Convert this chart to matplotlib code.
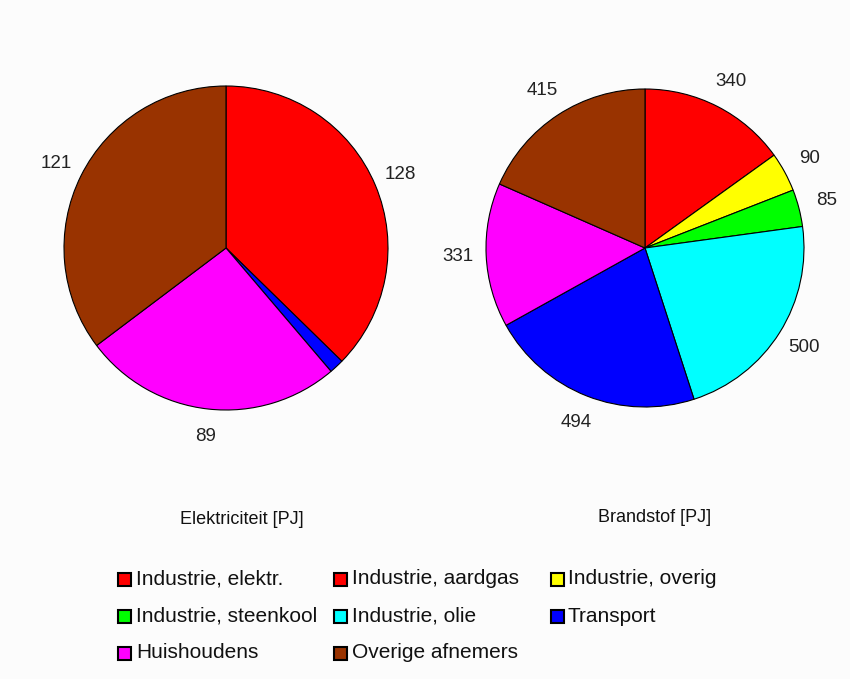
import matplotlib
matplotlib.use("Agg")
import matplotlib.pyplot as plt
from matplotlib.patches import Rectangle

plt.rcParams['font.family'] = ['Liberation Sans', 'DejaVu Sans']

# Electricity consumption [PJ]
elec_labels = ["Industrie, elektr.", "Transport", "Huishoudens", "Overige afnemers"]
elec_values = [128, 5, 89, 121]
elec_colors = ["#ff0000", "#0000ff", "#ff00ff", "#993300"]
elec_shown = ["128", "", "89", "121"]

# Fuel consumption [PJ]
fuel_labels = ["Industrie, aardgas", "Industrie, overig", "Industrie, steenkool",
               "Industrie, olie", "Transport", "Huishoudens", "Overige afnemers"]
fuel_values = [340, 90, 85, 500, 494, 331, 415]
fuel_colors = ["#ff0000", "#ffff00", "#00ff00", "#00ffff", "#0000ff", "#ff00ff", "#993300"]

legend_labels = ["Industrie, elektr.", "Industrie, aardgas", "Industrie, overig",
                 "Industrie, steenkool", "Industrie, olie", "Transport",
                 "Huishoudens", "Overige afnemers"]
legend_colors = ["#ff0000", "#ff0000", "#ffff00", "#00ff00", "#00ffff", "#0000ff",
                 "#ff00ff", "#993300"]

W, H = 850, 679
fig = plt.figure(figsize=(W / 100, H / 100), dpi=100, facecolor="#fcfcfc")


def px_axes(x0, y_top, size):
    return fig.add_axes([x0 / W, (H - y_top - size) / H, size / W, size / H])


wedge_style = dict(edgecolor="black", linewidth=0.8)
text_style = dict(fontsize=13.5, color="#222222")

ax1 = px_axes(64, 86, 324)
_, texts1 = ax1.pie(elec_values, colors=elec_colors, labels=elec_shown, startangle=90,
                    counterclock=False, labeldistance=1.17, wedgeprops=wedge_style,
                    textprops=text_style)
ax1.set_xlim(-1, 1)
ax1.set_ylim(-1, 1)
ax1.axis("off")

ax2 = px_axes(486, 89, 318)
_, texts2 = ax2.pie(fuel_values, colors=fuel_colors, labels=[str(v) for v in fuel_values],
                    startangle=90, counterclock=False, labeldistance=1.18,
                    wedgeprops=wedge_style, textprops=text_style)
ax2.set_xlim(-1, 1)
ax2.set_ylim(-1, 1)
ax2.axis("off")

for t in list(texts1) + list(texts2):
    t.set_ha("center")
    t.set_va("center")

fig.text(242 / W, 1 - 520 / H, "Elektriciteit [PJ]", ha="center", va="center",
         fontsize=13, color="#111111")
fig.text(655 / W, 1 - 518 / H, "Brandstof [PJ]", ha="center", va="center",
         fontsize=13, color="#111111")

# Legend: three columns, three rows
box_x = [124.5, 340.5, 557]
text_x = [136, 352, 568]
row_y = [579, 616, 653]
box = 13
for i, (lab, col) in enumerate(zip(legend_labels, legend_colors)):
    c = i % 3
    cy = row_y[i // 3]
    cx = box_x[c]
    fig.patches.append(Rectangle(((cx - box / 2) / W, 1 - (cy + box / 2) / H),
                                 box / W, box / H, transform=fig.transFigure,
                                 facecolor=col, edgecolor="black", linewidth=1.5))
    fig.text(text_x[c] / W, 1 - cy / H, lab, ha="left", va="center",
             fontsize=15, color="#111111")

fig.savefig("out.png", dpi=100, facecolor=fig.get_facecolor())
